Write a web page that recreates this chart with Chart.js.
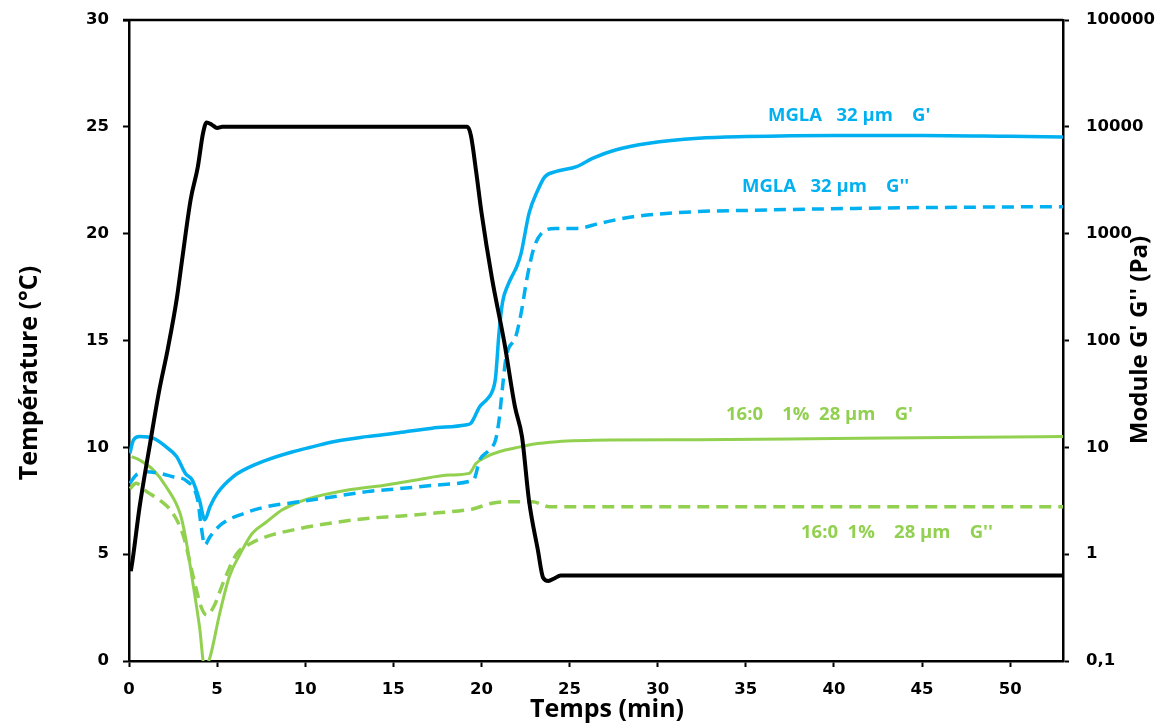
<!DOCTYPE html>
<html>
<head>
<meta charset="utf-8">
<script src="https://cdn.jsdelivr.net/npm/chart.js@4"></script>
<style>
  body { margin: 0; background: #fff; }
  #wrap { width: 1159px; height: 724px; }
</style>
</head>
<body>
<div id="wrap"><canvas id="chart"></canvas></div>
<script>
// temperature ramp (left axis, °C)
const tempTime = [0.1, 0.2, 0.6, 1.2, 1.7, 2.2, 2.7, 3.0, 3.5, 3.9, 4.2, 4.4, 4.7, 5.0, 5.3, 19.2, 19.4, 19.7, 20.0, 20.6, 21.3, 21.9, 22.3, 22.7, 23.2, 23.5, 23.8, 24.1, 24.5, 53];
const tempValues = [4.2, 4.7, 7.2, 10.2, 12.6, 14.6, 16.9, 18.7, 21.6, 23.1, 24.7, 25.2, 25.1, 24.95, 25, 25, 24.6, 22.9, 21.0, 17.9, 14.9, 11.9, 10.5, 7.5, 5.2, 3.9, 3.75, 3.85, 4.0, 4.0];

// MGLA 32 µm, G' (right axis, Pa)
const mglaGpTime = [0.05, 0.25, 0.6, 1.4, 2.1, 2.7, 3.2, 3.6, 4.0, 4.3, 4.6, 5.0, 5.9, 6.9, 7.8, 9.3, 10.4, 11.6, 13.5, 15.3, 17.2, 19.1, 19.4, 19.9, 20.3, 20.6, 20.8, 21.0, 21.2, 21.5, 21.8, 22.0, 22.25, 22.7, 23.2, 23.6, 24.2, 25.4, 26.3, 27.6, 29.5, 32.3, 35, 40, 45, 50, 53];
const mglaGpValues = [8.8, 11.7, 12.6, 12.1, 10.1, 8.2, 5.7, 4.9, 3.2, 2.1, 2.8, 3.7, 5.3, 6.6, 7.6, 9.1, 10.1, 11.3, 12.6, 13.7, 15.1, 16.2, 16.8, 24, 28, 33, 45, 120, 230, 330, 420, 490, 655, 1550, 2560, 3410, 3800, 4240, 5070, 6070, 7010, 7810, 8100, 8300, 8300, 8150, 8050];

// MGLA 32 µm, G''
const mglaGppTime = [0.05, 0.4, 1.0, 1.75, 2.5, 3.3, 3.9, 4.1, 4.3, 4.6, 5.3, 6.5, 7.8, 9.7, 11.6, 13.5, 15.3, 17.2, 19.3, 19.6, 19.9, 20.35, 20.6, 20.8, 21.0, 21.2, 21.4, 21.95, 22.25, 22.6, 23.0, 23.5, 24.2, 25.4, 26.7, 28.6, 32.3, 35, 41.8, 50, 53];
const mglaGppValues = [4.6, 5.5, 5.9, 5.7, 5.3, 4.8, 3.2, 1.8, 1.22, 1.46, 1.94, 2.4, 2.78, 3.1, 3.45, 3.85, 4.1, 4.4, 4.8, 5.1, 7.6, 9.1, 10.0, 11.7, 18, 37, 70, 109, 180, 395, 755, 1040, 1120, 1120, 1250, 1440, 1610, 1650, 1730, 1780, 1790];

// 16:0 1% 28 µm, G'
const palmGpTime = [0.15, 0.6, 1.4, 2.1, 2.9, 3.2, 3.6, 4.0, 4.3, 4.6, 5.15, 5.7, 6.3, 7.0, 7.8, 8.7, 9.7, 10.6, 12.5, 14.4, 16.3, 18.2, 19.3, 19.7, 20.3, 21.0, 22.2, 22.9, 24.3, 27.3, 32.3, 40, 50, 53];
const palmGpValues = [8.2, 7.6, 6.1, 4.3, 2.4, 1.46, 0.57, 0.21, 0.085, 0.109, 0.28, 0.62, 1.0, 1.57, 2.0, 2.6, 3.1, 3.45, 4.0, 4.4, 4.95, 5.5, 5.7, 7.1, 8.2, 9.1, 10.1, 10.7, 11.3, 11.7, 11.8, 12.1, 12.5, 12.6];

// 16:0 1% 28 µm, G''
const palmGppTime = [0.05, 0.4, 1.0, 1.75, 2.5, 3.1, 3.6, 4.1, 4.4, 4.8, 5.4, 6.1, 6.9, 7.8, 9.7, 11.6, 13.5, 15.3, 17.2, 19.1, 19.5, 20.6, 22.1, 22.9, 23.85, 30, 40, 53];
const palmGppValues = [4.1, 4.6, 3.85, 3.2, 2.4, 1.46, 0.66, 0.32, 0.27, 0.32, 0.57, 1.0, 1.26, 1.46, 1.74, 1.97, 2.16, 2.27, 2.41, 2.59, 2.65, 3.0, 3.1, 3.1, 2.78, 2.78, 2.78, 2.78];

const xTicks = [0, 5, 10, 15, 20, 25, 30, 35, 40, 45, 50];
const logTicks = [0.1, 1, 10, 100, 1000, 10000, 100000];

const BLUE = '#00b0f0';
const GREEN = '#92d050';
const tickFont = { family: 'DejaVu Sans', size: 16.5, weight: 'bold' };

function pairs(xs, ys) {
    return xs.map((x, i) => ({ x: x, y: ys[i] }));
}

function line(data, color, width, axis, dash) {
    return {
        data: data,
        borderColor: color,
        borderWidth: width,
        borderDash: dash || [],
        pointRadius: 0,
        fill: false,
        yAxisID: axis,
        cubicInterpolationMode: 'monotone'
    };
}

// keep the plot box where the original has it
function fixWidth(w) {
    return s => {
        s.width = w;
        s.paddingTop = 0;
        s.paddingBottom = 0;
    };
}

// free text: axis titles, curve labels, top frame line
const decor = {
    id: 'decor',
    afterDraw(chart) {
        const ctx = chart.ctx;
        const a = chart.chartArea;
        ctx.save();
        ctx.strokeStyle = '#000';
        ctx.lineWidth = 2.5;
        ctx.beginPath();
        ctx.moveTo(a.left - 6, a.top);
        ctx.lineTo(a.right, a.top);
        ctx.stroke();

        ctx.fillStyle = '#000';
        ctx.font = 'bold 25px "Open Sans"';
        ctx.textAlign = 'center';
        ctx.textBaseline = 'middle';
        ctx.fillText('Temps (min)', 607, 710);

        ctx.save();
        ctx.translate(30, 373);
        ctx.rotate(-Math.PI / 2);
        ctx.fillText('Température (°C)', 0, 0);
        ctx.restore();

        ctx.font = 'bold 24px "Open Sans"';
        ctx.save();
        ctx.translate(1140, 340);
        ctx.rotate(-Math.PI / 2);
        ctx.fillText('Module G\' G\'\' (Pa)', 0, 0);
        ctx.restore();

        ctx.font = 'bold 18.5px "Open Sans"';
        ctx.textAlign = 'left';
        ctx.fillStyle = BLUE;
        ctx.fillText('MGLA   32 µm    G\'', 768, 116);
        ctx.fillText('MGLA   32 µm    G\'\'', 742, 187);
        ctx.fillStyle = GREEN;
        ctx.fillText('16:0    1%  28 µm    G\'', 726, 415);
        ctx.fillText('16:0  1%    28 µm    G\'\'', 801, 533);
        ctx.restore();
    }
};

new Chart(document.getElementById('chart'), {
    type: 'line',
    data: {
        datasets: [
            line(pairs(tempTime, tempValues), '#000', 4, 'y'),
            line(pairs(mglaGpTime, mglaGpValues), BLUE, 3.5, 'y2'),
            line(pairs(mglaGppTime, mglaGppValues), BLUE, 3.5, 'y2', [12, 7]),
            line(pairs(palmGpTime, palmGpValues), GREEN, 3, 'y2'),
            line(pairs(palmGppTime, palmGppValues), GREEN, 3.5, 'y2', [12, 7])
        ]
    },
    options: {
        responsive: true,
        maintainAspectRatio: false,
        animation: false,
        layout: { padding: { top: 20, left: 0, right: 0, bottom: 0 } },
        plugins: { legend: { display: false }, tooltip: { enabled: false } },
        scales: {
            x: {
                type: 'linear',
                position: 'bottom',
                min: 0,
                max: 53,
                afterBuildTicks: s => { s.ticks = xTicks.map(v => ({ value: v })); },
                afterFit: s => { s.height = 63; s.paddingLeft = 0; s.paddingRight = 0; },
                ticks: { font: tickFont, color: '#000', padding: 13, maxRotation: 0 },
                grid: { drawOnChartArea: false, tickLength: 6, tickColor: '#000', tickWidth: 2 },
                border: { color: '#000', width: 2.5 }
            },
            y: {
                position: 'left',
                min: 0,
                max: 30,
                ticks: { stepSize: 5, font: tickFont, color: '#000', padding: 14 },
                afterFit: fixWidth(129),
                grid: { drawOnChartArea: false, tickLength: 6, tickColor: '#000', tickWidth: 2 },
                border: { color: '#000', width: 2.5 }
            },
            y2: {
                type: 'logarithmic',
                position: 'right',
                min: 0.1,
                max: 100000,
                afterBuildTicks: s => { s.ticks = logTicks.map(v => ({ value: v })); },
                afterFit: fixWidth(96),
                ticks: {
                    font: tickFont,
                    color: '#000',
                    padding: 17,
                    callback: v => String(v).replace('.', ',')
                },
                grid: { drawOnChartArea: false, tickLength: 6, tickColor: '#000', tickWidth: 2 },
                border: { color: '#000', width: 2.5 }
            }
        }
    },
    plugins: [decor]
});
</script>
</body>
</html>
